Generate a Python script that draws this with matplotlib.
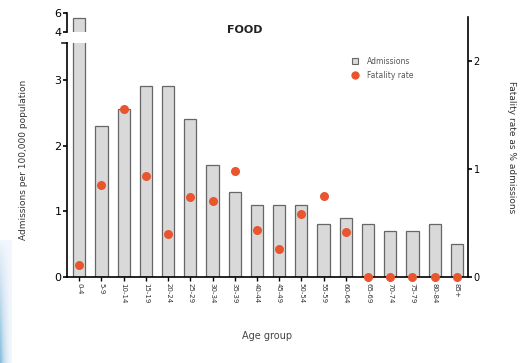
import numpy as np
import matplotlib.pyplot as plt
from matplotlib.patches import Patch
from matplotlib.lines import Line2D

age_groups = ["0-4", "5-9", "10-14", "15-19", "20-24", "25-29", "30-34", "35-39",
              "40-44", "45-49", "50-54", "55-59", "60-64", "65-69", "70-74",
              "75-79", "80-84", "85+"]
admissions = [5.4, 2.3, 2.55, 2.9, 2.9, 2.4, 1.7, 1.3, 1.1, 1.1, 1.1, 0.8, 0.9,
              0.8, 0.7, 0.7, 0.8, 0.5]
fatality = [0.11, 0.85, 1.56, 0.94, 0.40, 0.74, 0.70, 0.98, 0.44, 0.26, 0.58,
            0.75, 0.42, 0.0, 0.0, 0.0, 0.0, 0.0]

W, H = 524, 363
fig = plt.figure(figsize=(W / 100, H / 100), dpi=100)
fig.patch.set_facecolor("white")


def px_axes(x0, y0, x1, y1, **kw):
    # axes placed by pixel box (top-left origin)
    return fig.add_axes([x0 / W, 1 - y1 / H, (x1 - x0) / W, (y1 - y0) / H], **kw)


# faint blue strip on the left edge
strip = px_axes(0, 240, 12, 363)
grad = np.outer(np.linspace(0, 1, 60) ** 0.7, np.ones(20)) * np.linspace(1, 0.0, 20) ** 1.5
strip.imshow(grad, aspect="auto", cmap="Blues", vmin=-0.1, vmax=1.8, alpha=0.7)
strip.axis("off")

x = np.arange(len(age_groups))
bar_kw = dict(width=0.55, color="#d9d9d9", edgecolor="#666666", linewidth=0.9)
xlim = (-0.55, 17.5)

# lower part of the broken admissions axis
ax_lo = px_axes(67, 43, 468, 277)
ax_lo.bar(x, admissions, **bar_kw)
ax_lo.set_xlim(*xlim)
ax_lo.set_ylim(0, 3.56)
ax_lo.set_yticks([0, 1, 2, 3])
ax_lo.set_xticks(x)
ax_lo.set_xticklabels(age_groups, rotation=270, fontsize=5, color="#333333")
for s in ["top", "right"]:
    ax_lo.spines[s].set_visible(False)
ax_lo.spines["left"].set_linewidth(1.2)
ax_lo.spines["bottom"].set_linewidth(1.2)
ax_lo.tick_params(axis="y", labelsize=8, length=3, width=1.2, pad=1)
ax_lo.tick_params(axis="x", length=3, width=1, pad=1)
ax_lo.set_ylabel("Admissions per 100,000 population", fontsize=6.5,
                 color="#333333")
ax_lo.yaxis.set_label_coords(-0.098, 0.5)
ax_lo.set_xlabel("Age group", fontsize=7, color="#444444", labelpad=20)
ax_lo.plot([-0.012, 0], [1, 1], transform=ax_lo.transAxes, color="#222222",
           lw=1.2, clip_on=False)

# upper part of the broken axis
ax_hi = px_axes(67, 12.7, 468, 31.7)
ax_hi.bar(x, admissions, **bar_kw)
ax_hi.set_xlim(*xlim)
ax_hi.set_ylim(4, 6)
ax_hi.set_yticks([4, 6])
ax_hi.set_xticks([])
for s in ["top", "right", "bottom"]:
    ax_hi.spines[s].set_visible(False)
ax_hi.spines["left"].set_linewidth(1.2)
ax_hi.tick_params(axis="y", labelsize=8, length=3, width=1.2, pad=1)
ax_hi.patch.set_alpha(0)

# fatality rate on the right axis
ax_r = px_axes(67, 17, 468, 277)
ax_r.patch.set_alpha(0)
ax_r.plot(x, fatality, "o", color="#e8552e", ms=6.5, mec="none", clip_on=False,
          zorder=5)
ax_r.set_xlim(*xlim)
ax_r.set_ylim(0, 2.41)
ax_r.set_xticks([])
ax_r.yaxis.tick_right()
ax_r.yaxis.set_label_position("right")
ax_r.set_yticks([0, 1, 2])
for s in ["top", "left", "bottom"]:
    ax_r.spines[s].set_visible(False)
ax_r.spines["right"].set_linewidth(1.2)
ax_r.tick_params(axis="y", labelsize=7, length=3, width=1.2, pad=1)
ax_r.set_ylabel("Fatality rate as % admissions", fontsize=6.5, rotation=270,
                color="#333333")
ax_r.yaxis.set_label_coords(1.12, 0.5)

fig.text(245 / W, 1 - 30 / H, "FOOD", fontsize=8, fontweight="bold",
         ha="center", va="center", color="#222222")

# legend
handles = [Patch(facecolor="#d9d9d9", edgecolor="#666666", linewidth=0.8),
           Line2D([], [], ls="none", marker="o", color="#e8552e", ms=6, mec="none")]
leg = ax_r.legend(handles, ["Admissions", "Fatality rate"], loc="upper left",
                  bbox_to_anchor=((348 - 67) / 401, 1 - (53 - 17) / 260),
                  frameon=False, fontsize=5.5, handlelength=0.8,
                  handleheight=0.9, handletextpad=1.2, labelspacing=0.7,
                  borderpad=0)
for t in leg.get_texts():
    t.set_color("#555555")

fig.savefig("out.png", dpi=100)
